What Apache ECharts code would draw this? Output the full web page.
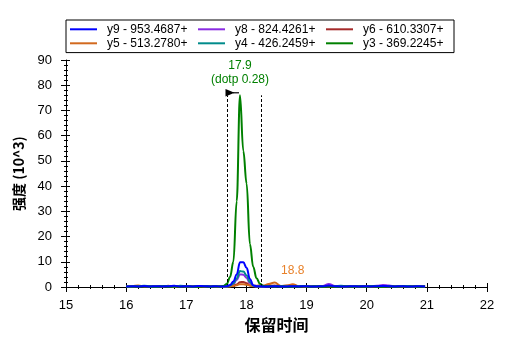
<!DOCTYPE html>
<html>
<head>
<meta charset="utf-8">
<script src="https://cdn.jsdelivr.net/npm/echarts@6/dist/echarts.min.js"></script>
<style>html,body{margin:0;padding:0;background:#fff;}#c{width:507px;height:351px;}</style>
</head>
<body>
<div id="c"></div>
<script>
// retention times (min)
var times = [16.0,16.1,16.2,16.3,16.4,16.5,16.6,16.7,16.8,16.9,17.0,17.1,17.2,17.3,17.4,17.5,
  17.563,17.618,17.673,17.728,17.783,17.838,17.893,17.948,18.003,18.058,18.113,18.168,18.223,18.278,
  18.37,18.47,18.57,18.67,18.77,18.87,18.97,19.07,19.17,19.27,19.37,19.47,19.57,19.67,19.77,19.87,19.97,20.07,20.17,20.27,20.37,20.47,20.57,20.67,20.77,20.87,20.97];
// intensities (10^3)
var y9 = [0.2,0.3,0.2,0.4,0.2,0.3,0.2,0.3,0.5,0.2,0.3,0.2,0.4,0.3,0.2,0.3,
  0.2,0.2,0.3,0.8,2.2,5.0,9.8,9.8,7.6,3.2,0.7,0.3,0.3,0.2,
  0.2,0.3,0.2,0.2,0.3,0.2,0.3,0.2,0.2,0.3,0.6,0.3,0.2,0.2,0.3,0.2,0.3,0.2,0.3,0.4,0.3,0.2,0.3,0.2,0.2,0.3,0.2];
var y8 = [0.1,0.2,0.3,0.2,0.1,0.3,0.2,0.4,0.2,0.3,0.2,0.1,0.3,0.2,0.4,0.2,
  0.2,0.1,0.2,0.5,1.2,2.8,5.0,4.9,3.6,1.5,0.4,0.2,0.1,0.1,
  0.2,0.3,0.2,0.3,0.2,0.3,0.2,0.3,0.2,0.4,1.2,0.4,0.2,0.3,0.2,0.3,0.2,0.3,0.5,0.8,0.6,0.3,0.2,0.3,0.2,0.3,0.2];
var y6 = [0.3,0.2,0.2,0.3,0.4,0.2,0.3,0.2,0.2,0.3,0.2,0.3,0.2,0.3,0.2,0.2,
  0.2,0.1,0.1,0.2,0.5,1.0,1.9,2.0,1.5,0.6,0.3,0.2,0.2,0.3,
  0.4,0.6,0.3,0.5,0.6,0.3,0.2,0.3,0.2,0.2,0.3,0.2,0.3,0.2,0.2,0.3,0.2,0.2,0.3,0.2,0.3,0.2,0.2,0.3,0.2,0.2,0.3];
var y5 = [0.2,0.4,0.6,0.3,0.2,0.3,0.2,0.5,0.2,0.3,0.4,0.2,0.3,0.2,0.3,0.2,
  0.2,0.2,0.2,0.3,0.4,0.7,1.1,1.1,0.9,0.6,0.4,0.5,0.7,0.5,
  1.2,1.8,0.4,0.6,1.1,0.3,0.2,0.3,0.2,0.3,0.2,0.3,0.2,0.2,0.3,0.2,0.3,0.2,0.2,0.3,0.2,0.3,0.2,0.4,0.2,0.3,0.2];
var y4 = [0.3,0.2,0.3,0.5,0.3,0.2,0.4,0.3,0.2,0.5,0.3,0.2,0.3,0.4,0.2,0.3,
  0.2,0.2,0.2,0.6,1.5,3.4,6.3,6.1,4.6,2.0,0.5,0.2,0.2,0.2,
  0.3,0.2,0.3,0.2,0.2,0.3,0.4,0.2,0.3,0.2,0.4,0.3,0.5,0.3,0.2,0.3,0.2,0.4,0.3,0.2,0.3,0.2,0.3,0.4,0.2,0.3,0.2];
var y3 = [0.1,0.2,0.1,0.2,0.1,0.1,0.2,0.1,0.2,0.1,0.2,0.1,0.1,0.2,0.1,0.2,
  0.2,0.4,1.2,4.0,10,34,76,54,41,17,8.0,3.5,1.3,0.5,
  0.2,0.3,0.2,0.1,0.2,0.1,0.2,0.1,0.2,0.1,0.2,0.1,0.1,0.2,0.1,0.2,0.1,0.2,0.1,0.1,0.2,0.1,0.2,0.1,0.2,0.1,0.2];

var seriesNames = ['y9 - 953.4687+','y8 - 824.4261+','y6 - 610.3307+','y5 - 513.2780+','y4 - 426.2459+','y3 - 369.2245+'];
var seriesColors = ['#0000ff','#8a2be2','#a52a2a','#d2691e','#008b8b','#008000'];
var seriesValues = [y9,y8,y6,y5,y4,y3];

// annotations
var integrationBounds = [17.682, 18.254];
var boundTop = 76;
var predictedRT = [17.727, 77];
var peakLabel = {rt: 17.893, value: 76, text: '17.9\n(dotp 0.28)'};
var secondLabel = {rt: 18.77, value: 1.1, text: '18.8'};

var xTicks = {min: 15, max: 22, interval: 1};
var yTicks = {min: 0, max: 90, interval: 10};

function pairs(vals){ return times.map(function(t,i){ return [t, vals[i]]; }); }

var font = 'Liberation Sans, Arial, sans-serif';
var series = seriesNames.map(function(n, i){
  return {
    name: n, type: 'line', data: pairs(seriesValues[i]), showSymbol: false, symbol: 'none',
    smooth: 0.4, smoothMonotone: 'x',
    lineStyle: {color: seriesColors[i], width: 2}, itemStyle: {color: seriesColors[i]},
    z: 2 + (i === 0 ? 5 : 0), animation: false
  };
});
function textPoint(coord, text, color, dist, lh){
  return {coord: coord, symbol: 'circle', symbolSize: 1, itemStyle: {color: 'rgba(0,0,0,0)'},
    label: {show: true, position: 'top', distance: dist, formatter: text, color: color, fontSize: 12, lineHeight: lh, fontFamily: font}};
}
series[5].markLine = {
  silent: true, symbol: 'none', animation: false,
  label: {show: false},
  lineStyle: {color: '#000', type: [3, 2], width: 1},
  data: integrationBounds.map(function(b){ return [{coord: [b, 0]}, {coord: [b, boundTop]}]; })
};
series[5].markPoint = {
  silent: true, animation: false,
  data: [
    {coord: predictedRT, symbol: 'triangle', symbolRotate: -90, symbolSize: [7.5, 9], itemStyle: {color: '#000'}, label: {show: false}},
    {coord: [predictedRT[0] + 0.1, predictedRT[1]], symbol: 'rect', symbolSize: [6, 1.2], itemStyle: {color: '#000'}, label: {show: false}},
    textPoint([peakLabel.rt, peakLabel.value], peakLabel.text, '#008000', 8, 14)
  ]
};
series[3].markPoint = {
  silent: true, animation: false,
  data: [textPoint([secondLabel.rt, secondLabel.value], secondLabel.text, '#e8812a', 6, 14)]
};

var chart = echarts.init(document.getElementById('c'), null, {renderer: 'canvas'});
chart.setOption({
  animation: false,
  backgroundColor: '#fff',
  textStyle: {fontFamily: font},
  legend: {
    left: 66, top: 20, width: 400, orient: 'horizontal',
    itemWidth: 27, itemHeight: 2, itemGap: 0, icon: 'rect',
    borderColor: '#000', borderWidth: 1, padding: [2.3, 0, 2.3, 4],
    textStyle: {fontSize: 12, color: '#000', width: 91, lineHeight: 14, padding: [0, 0, 0, 5], fontFamily: font},
    data: seriesNames
  },
  grid: {left: 66, right: 20, top: 60, bottom: 64, containLabel: false},
  xAxis: [{
    type: 'value', min: xTicks.min, max: xTicks.max, interval: xTicks.interval, position: 'bottom',
    name: '保留时间', nameLocation: 'middle', nameGap: 29,
    nameTextStyle: {fontSize: 16, fontWeight: 'bold', color: '#000', fontFamily: 'Noto Sans CJK SC, sans-serif'},
    axisLine: {show: true, onZero: false, lineStyle: {color: '#000', width: 1}},
    axisTick: {show: true, inside: false, length: 5, lineStyle: {color: '#000'}},
    minorTick: {show: true, splitNumber: 5, length: 2, lineStyle: {color: '#000'}},
    axisLabel: {fontSize: 13, color: '#000', margin: 12, fontFamily: font},
    splitLine: {show: false}
  }, {
    type: 'value', min: xTicks.min, max: xTicks.max, interval: xTicks.interval, position: 'bottom',
    axisLine: {show: false}, axisLabel: {show: false}, splitLine: {show: false},
    axisTick: {show: true, inside: true, length: 4, lineStyle: {color: '#000'}},
    minorTick: {show: true, splitNumber: 5, length: 2, lineStyle: {color: '#000'}}
  }],
  yAxis: [{
    type: 'value', min: yTicks.min, max: yTicks.max, interval: yTicks.interval, position: 'left',
    name: '强度 (10^3)', nameLocation: 'middle', nameGap: 40, nameRotate: 90,
    nameTextStyle: {fontSize: 14, fontWeight: 'bold', color: '#000', fontFamily: 'Noto Sans CJK SC, Liberation Sans, sans-serif'},
    axisLine: {show: true, lineStyle: {color: '#000', width: 1}},
    axisTick: {show: true, inside: false, length: 5, lineStyle: {color: '#000'}},
    minorTick: {show: true, splitNumber: 5, length: 2, lineStyle: {color: '#000'}},
    axisLabel: {fontSize: 13, color: '#000', margin: 14, fontFamily: font},
    splitLine: {show: false}
  }, {
    type: 'value', min: yTicks.min, max: yTicks.max, interval: yTicks.interval, position: 'left',
    axisLine: {show: false}, axisLabel: {show: false}, splitLine: {show: false},
    axisTick: {show: true, inside: true, length: 4, lineStyle: {color: '#000'}},
    minorTick: {show: true, splitNumber: 5, length: 2, lineStyle: {color: '#000'}}
  }],
  series: series
});
</script>
</body>
</html>
